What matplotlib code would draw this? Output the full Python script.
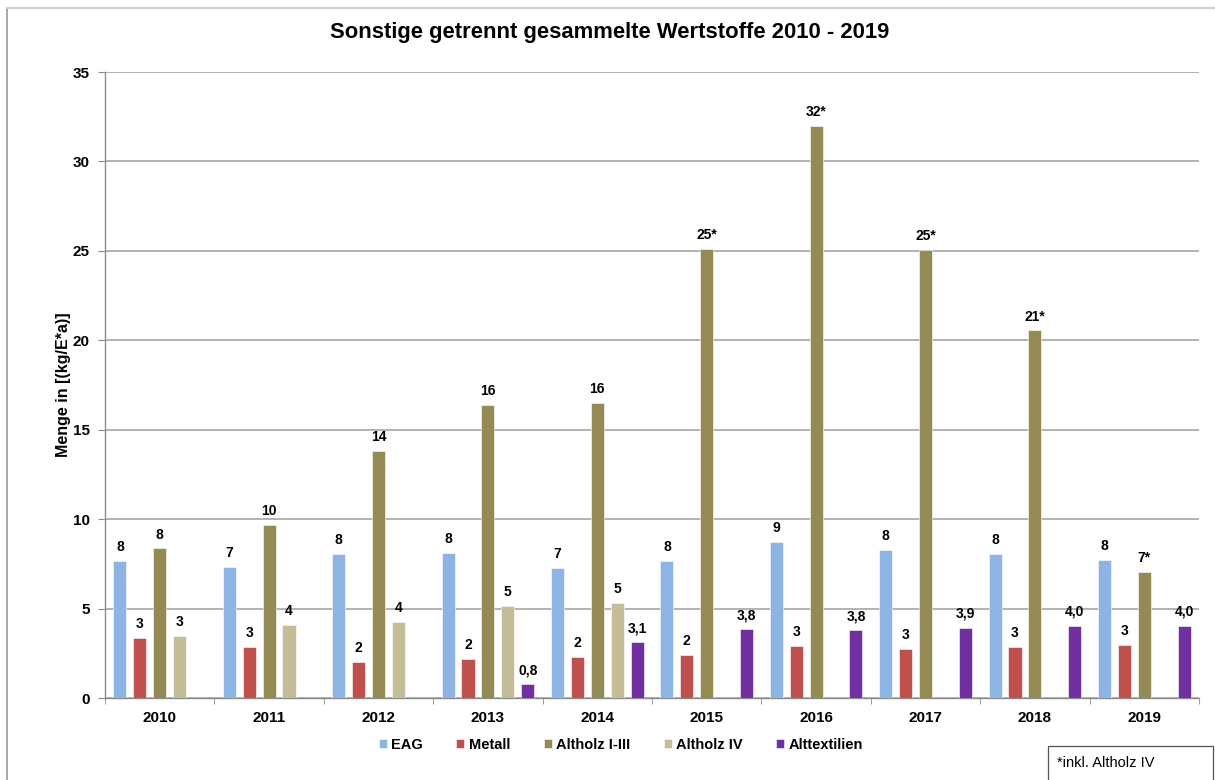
import numpy as np
import matplotlib.pyplot as plt
from matplotlib.lines import Line2D
from matplotlib.patches import Rectangle

plt.rcParams['font.family'] = ['Liberation Sans', 'DejaVu Sans']

years = ['2010', '2011', '2012', '2013', '2014', '2015', '2016', '2017', '2018', '2019']
nan = np.nan

eag = [7.64, 7.30, 8.07, 8.10, 7.27, 7.64, 8.70, 8.25, 8.07, 7.71]
metall = [3.33, 2.83, 1.99, 2.18, 2.31, 2.42, 2.91, 2.72, 2.83, 2.94]
altholz_1_3 = [8.36, 9.70, 13.82, 16.38, 16.47, 25.10, 31.99, 25.07, 20.55, 7.04]
altholz_4 = [3.48, 4.10, 4.25, 5.12, 5.31, nan, nan, nan, nan, nan]
alttextilien = [nan, nan, nan, 0.78, 3.13, 3.84, 3.80, 3.93, 4.04, 4.04]

# from 2015 on Altholz IV is contained in Altholz I-III
star_from = 2015

series = [
    ('EAG', eag, '#8EB4E3', 'int'),
    ('Metall', metall, '#C0504D', 'int'),
    ('Altholz I-III', altholz_1_3, '#948A54', 'star'),
    ('Altholz IV', altholz_4, '#C4BD97', 'int'),
    ('Alttextilien', alttextilien, '#7030A0', 'dec'),
]

fig = plt.figure(figsize=(12.15, 7.8), dpi=100)
ax = fig.add_axes([105 / 1215, 82 / 780, 1094 / 1215, 626 / 780])

x = np.arange(len(years))
width = 0.12
step = 0.182

for i, (name, vals, color, fmt) in enumerate(series):
    pos = x + (i - 2) * step
    vals = np.array(vals, dtype=float)
    ax.bar(pos, vals, width, color=color, label=name, zorder=3,
           edgecolor='white', linewidth=0.4)
    for xp, v, yr in zip(pos, vals, years):
        if np.isnan(v):
            continue
        if fmt == 'dec':
            txt = f'{v:.1f}'.replace('.', ',')
        else:
            txt = f'{v:.0f}'
            if fmt == 'star' and int(yr) >= star_from:
                txt += '*'
        ax.annotate(txt, (xp, v), xytext=(0, 5), textcoords='offset points',
                    ha='center', va='bottom', fontsize=10, fontweight='bold')

ax.set_xlim(-0.5, len(years) - 0.5)
ax.set_ylim(0, 35)
ax.set_yticks(range(0, 36, 5))
ax.yaxis.grid(True, color='#a6a6a6', linewidth=1.2, zorder=0)
ax.set_axisbelow(True)

ax.set_xticks(x)
ax.set_xticklabels(years, fontsize=11, fontweight='bold')
ax.set_xticks(np.arange(-0.5, len(years)), minor=True)
ax.tick_params(axis='x', which='major', length=0, pad=9)
ax.tick_params(axis='x', which='minor', length=4, color='#8c8c8c', direction='out')
ax.tick_params(axis='y', length=5, color='#8c8c8c', pad=6, labelsize=11)
for lab in ax.get_yticklabels():
    lab.set_fontweight('bold')

for s in ['top', 'right']:
    ax.spines[s].set_visible(False)
for s in ['left', 'bottom']:
    ax.spines[s].set_color('#8c8c8c')
    ax.spines[s].set_linewidth(1.0)

ax.set_ylabel('Menge in [(kg/E*a)]', fontsize=11.5, fontweight='bold', labelpad=1)

fig.text(0.502, 0.958, 'Sonstige getrennt gesammelte Wertstoffe 2010 - 2019',
         ha='center', va='center', fontsize=15.8, fontweight='bold')

leg = fig.legend(loc='center', bbox_to_anchor=(0.511, 0.045), ncol=5, frameon=False,
                 handlelength=0.55, handleheight=0.55, handletextpad=0.3,
                 columnspacing=2.3, prop={'size': 10.5, 'weight': 'bold'})

# chart frame and footnote box
fig.add_artist(Line2D([7 / 1215, 7 / 1215], [0, 1 - 8 / 780], color='#9a9a9a', linewidth=1.2))
fig.add_artist(Line2D([7 / 1215, 1], [1 - 8 / 780, 1 - 8 / 780], color='#d0d0d0', linewidth=1.5))
fig.add_artist(Rectangle((1048 / 1215, -0.01), 165 / 1215, 42 / 780,
                         transform=fig.transFigure, fill=False,
                         edgecolor='#555555', linewidth=0.9))
fig.text(1057 / 1215, 1 - 763 / 780, '*inkl. Altholz IV', ha='left', va='center',
         fontsize=10.5)

fig.savefig('out.png', dpi=100)
